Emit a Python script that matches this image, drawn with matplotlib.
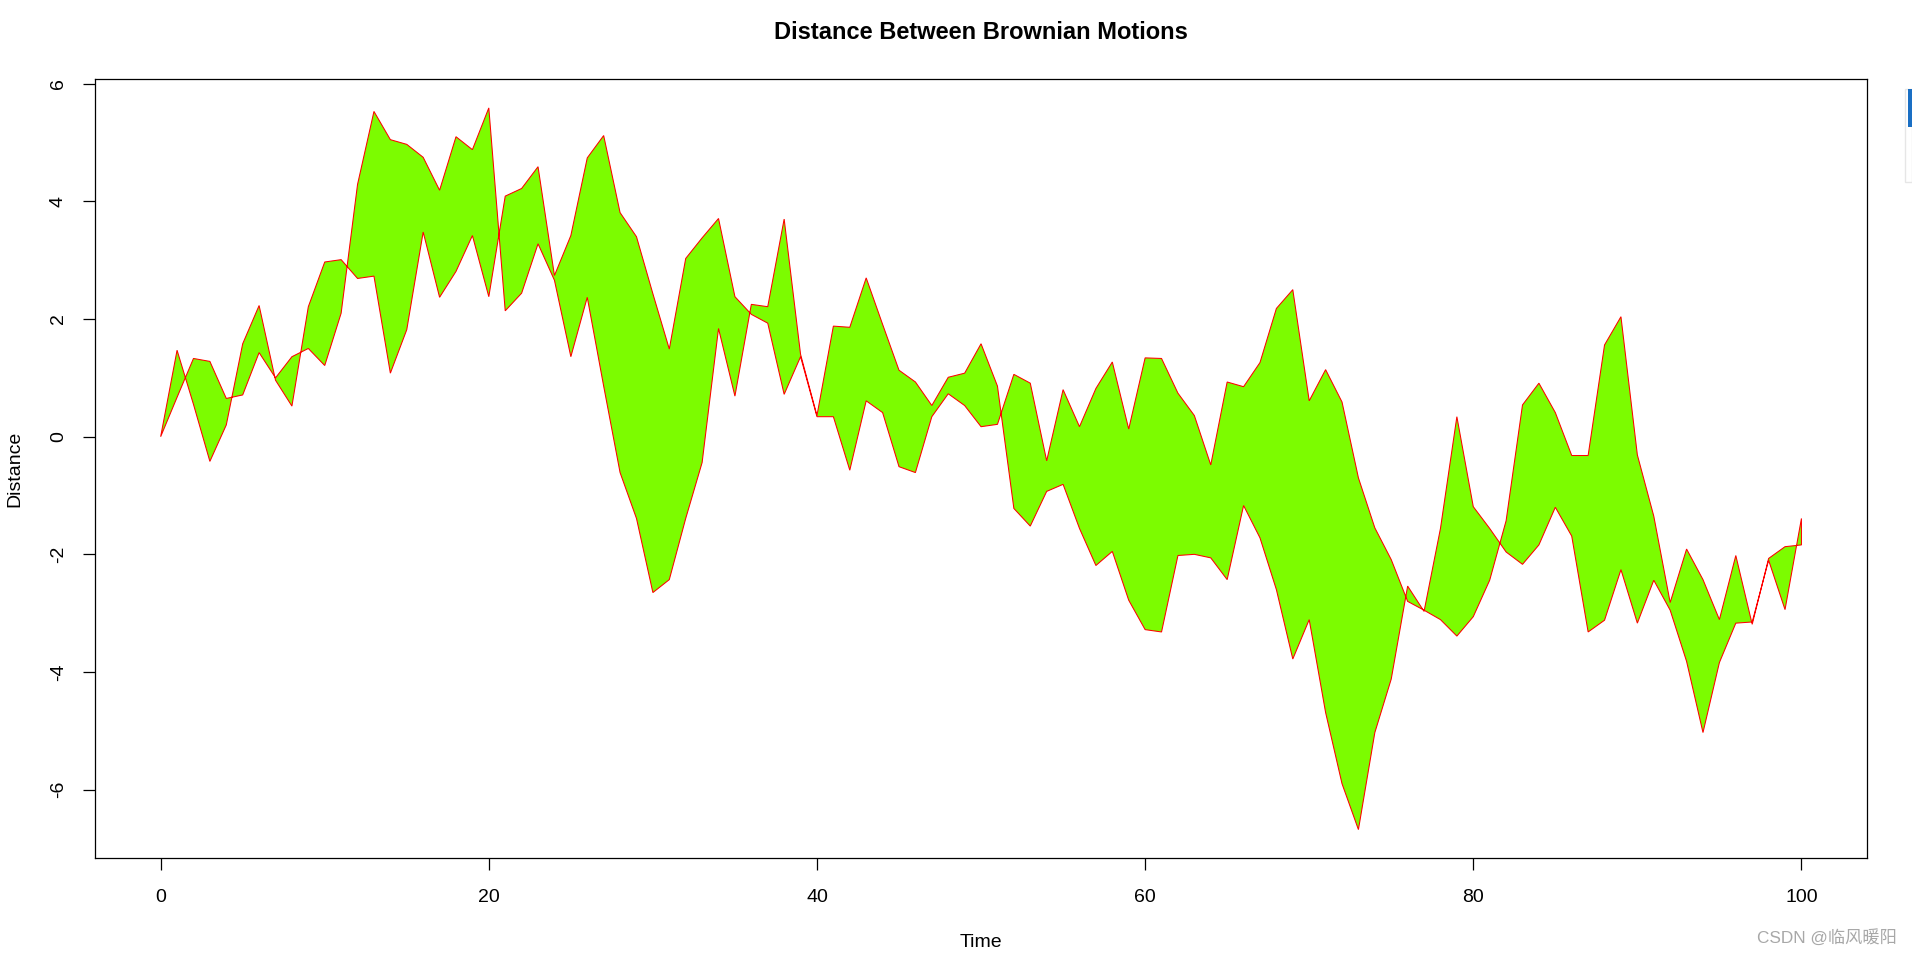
import numpy as np
import matplotlib
matplotlib.use("Agg")
import matplotlib.pyplot as plt
from matplotlib.patches import Rectangle

# two Brownian paths at t = 0..100
time = np.arange(0, 101)

path_a = [0.00, 1.47, 0.55, -0.42, 0.20, 1.58, 2.23, 0.96, 0.52, 2.21,
          2.97, 3.01, 2.69, 2.73, 1.08, 1.82, 3.48, 2.37, 2.81, 3.42,
          2.38, 4.09, 4.22, 4.59, 2.74, 3.42, 4.74, 5.12, 3.81, 3.40,
          2.43, 1.49, 3.03, 3.38, 3.71, 2.38, 2.08, 1.93, 0.72, 1.36,
          0.34, 0.34, -0.57, 0.61, 0.41, -0.51, -0.61, 0.34, 0.73, 0.53,
          0.17, 0.21, 1.06, 0.91, -0.41, 0.80, 0.17, 0.82, 1.27, 0.13,
          1.34, 1.33, 0.74, 0.36, -0.48, 0.93, 0.85, 1.26, 2.18, 2.50,
          0.61, 1.14, 0.59, -0.70, -1.55, -2.09, -2.80, -2.95, -3.11, -3.39,
          -3.06, -2.44, -1.43, 0.54, 0.91, 0.41, -0.32, -0.32, 1.56, 2.04,
          -0.31, -1.35, -2.82, -1.91, -2.43, -3.11, -2.02, -3.19, -2.07, -1.87,
          -1.84]

path_b = [0.00, 0.67, 1.33, 1.28, 0.65, 0.71, 1.43, 1.00, 1.36, 1.50,
          1.21, 2.10, 4.29, 5.53, 5.05, 4.97, 4.75, 4.19, 5.10, 4.88,
          5.59, 2.14, 2.44, 3.28, 2.66, 1.36, 2.37, 0.86, -0.61, -1.39,
          -2.65, -2.43, -1.39, -0.44, 1.84, 0.69, 2.25, 2.21, 3.70, 1.40,
          0.36, 1.88, 1.86, 2.70, 1.91, 1.13, 0.93, 0.53, 1.01, 1.08,
          1.58, 0.86, -1.22, -1.52, -0.93, -0.81, -1.56, -2.19, -1.95, -2.78,
          -3.28, -3.32, -2.02, -2.00, -2.06, -2.43, -1.17, -1.72, -2.60, -3.78,
          -3.11, -4.69, -5.90, -6.68, -5.03, -4.12, -2.54, -2.97, -1.56, 0.34,
          -1.19, -1.56, -1.96, -2.17, -1.84, -1.20, -1.69, -3.32, -3.12, -2.26,
          -3.17, -2.44, -2.95, -3.82, -5.03, -3.84, -3.17, -3.15, -2.10, -2.94,
          -1.39]

x_ticks = [0, 20, 40, 60, 80, 100]
y_ticks = [-6, -4, -2, 0, 2, 4, 6]

plt.rcParams['font.family'] = ['Liberation Sans', 'DejaVu Sans']

fig = plt.figure(figsize=(19.12, 9.58), dpi=100)
ax = fig.add_axes([0.0497, 0.1039, 0.9268, 0.8136])

poly_x = np.concatenate([time, time[::-1]])
poly_y = np.concatenate([path_a, path_b[::-1]])
ax.fill(poly_x, poly_y, facecolor='#7CFC00', edgecolor='red', linewidth=0.75)

# R style 4% axis padding
lo = min(min(path_a), min(path_b))
hi = max(max(path_a), max(path_b))
pad_y = (hi - lo) * 0.04
ax.set_xlim(-4, 104)
ax.set_ylim(lo - pad_y, hi + pad_y)

ax.set_xticks(x_ticks)
ax.set_yticks(y_ticks)
ax.set_yticklabels([str(v) for v in y_ticks], rotation=90, va='center')
ax.tick_params(direction='out', length=8.6, width=0.9, labelsize=14)
ax.tick_params(axis='x', pad=13.5)
ax.tick_params(axis='y', pad=11.7)
for s in ax.spines.values():
    s.set_linewidth(0.9)

ax.set_xlabel("Time", fontsize=14, labelpad=20)
ax.set_ylabel("Distance", fontsize=14, labelpad=19)
ax.set_title("Distance Between Brownian Motions", fontsize=17, fontweight='bold', pad=29)

fig.text(0.992, 0.0125, "CSDN @临风暖阳", ha='right', va='bottom', fontsize=12.4,
         color='#a8a8a8', family=['Liberation Sans', 'Noto Sans CJK SC'])

# small window fragment at the right edge
fig.patches.append(Rectangle((1905 / 1912, 1 - 182 / 958), 7 / 1912, 93 / 958,
                             transform=fig.transFigure, facecolor='white',
                             edgecolor='#e6e6e6', linewidth=1))
fig.patches.append(Rectangle((1908 / 1912, 1 - 127 / 958), 4 / 1912, 38 / 958,
                             transform=fig.transFigure, facecolor='#1a6fc4',
                             edgecolor='none'))

fig.savefig("out.png", dpi=100)
